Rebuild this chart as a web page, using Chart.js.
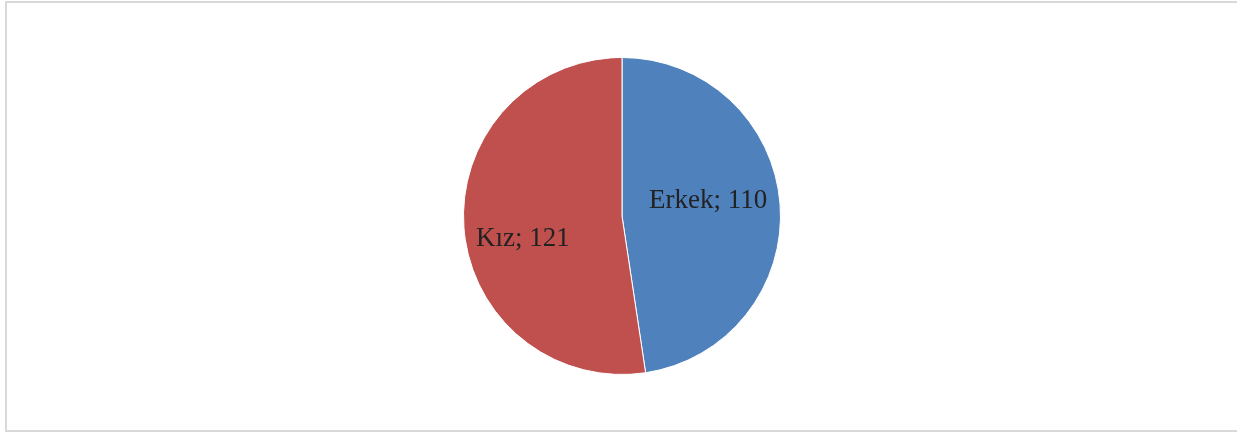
<!DOCTYPE html>
<html lang="tr">
<head>
  <meta charset="UTF-8" />
  <title>Cinsiyet Dağılımı</title>
  <script src="https://cdn.jsdelivr.net/npm/chart.js"></script>
  <style>
    html, body {
      margin: 0;
      padding: 0;
      background: #fff;
      overflow: hidden;
    }
    .frame {
      position: absolute;
      left: 5px;
      top: 1px;
      width: 1250px;
      height: 427px;
      border: 2px solid #d9d9d9;
      box-sizing: content-box;
    }
    .chart-box {
      position: absolute;
      left: 0;
      top: 0;
      width: 1237px;
      height: 432px;
    }
  </style>
</head>
<body>
  <div class="frame"></div>
  <div class="chart-box"><canvas id="pieChart"></canvas></div>

  <script>
    // veriler
    const labels = ["Erkek", "Kız"];
    const values = [110, 121];
    const colors = ["#4F81BD", "#C0504D"];
    // etiket kaydırmaları (merkez noktasına göre, px)
    const labelShift = [[7, -9], [-20, 17]];

    // dilim etiketleri "Ad; değer"
    const sliceLabels = {
      id: "sliceLabels",
      afterDatasetsDraw(chart) {
        const ctx = chart.ctx;
        const meta = chart.getDatasetMeta(0);
        ctx.save();
        ctx.font = '27px "Liberation Serif", "Times New Roman", serif';
        ctx.fillStyle = "#222222";
        ctx.textAlign = "center";
        ctx.textBaseline = "middle";
        meta.data.forEach((arc, i) => {
          const p = arc.tooltipPosition();
          ctx.fillText(labels[i] + "; " + values[i], p.x + labelShift[i][0], p.y + labelShift[i][1]);
        });
        ctx.restore();
      }
    };

    new Chart(document.getElementById("pieChart"), {
      type: "pie",
      data: {
        labels: labels,
        datasets: [{
          data: values,
          backgroundColor: colors,
          borderColor: "#ffffff",
          borderWidth: 1
        }]
      },
      options: {
        responsive: true,
        maintainAspectRatio: false,
        animation: false,
        layout: { padding: { top: 57, bottom: 57, left: 7, right: 0 } },
        plugins: {
          legend: { display: false },
          tooltip: { enabled: false }
        }
      },
      plugins: [sliceLabels]
    });
  </script>
</body>
</html>
